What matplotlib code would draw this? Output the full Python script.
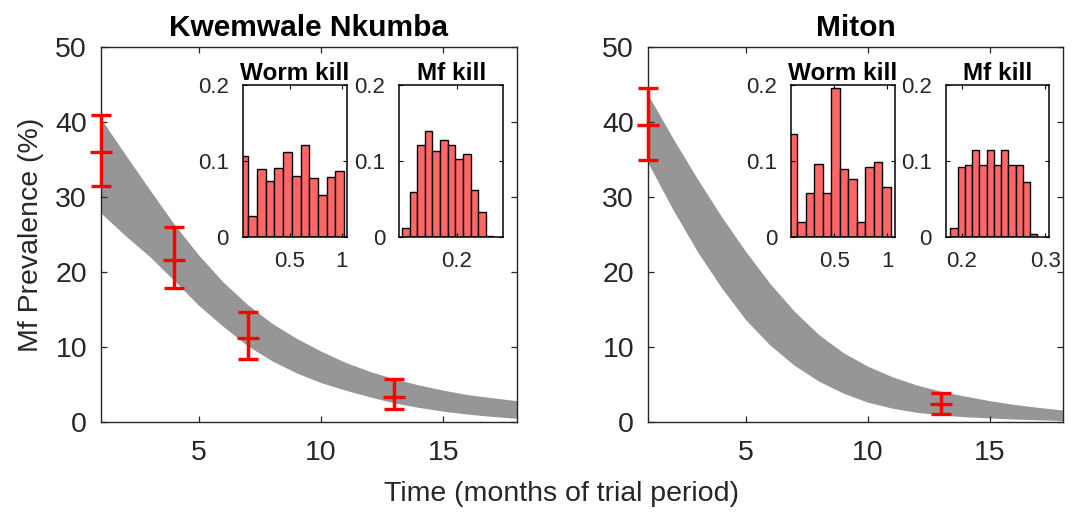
import numpy as np
import matplotlib
matplotlib.use("Agg")
import matplotlib.pyplot as plt

plt.rcParams['font.family'] = ['Liberation Sans', 'DejaVu Sans']
TXT = '#262626'

# ---- band of model trajectories (upper / lower envelope)
months = [1, 2, 3, 4, 5, 6, 7, 8, 9, 10, 11, 12, 13, 14, 15, 16, 17, 18]
kw_upper = [40.4, 35.6, 30.9, 26.3, 22.2, 18.6, 15.6, 13.1, 11.1, 9.4, 7.9, 6.7, 5.7, 4.9, 4.2, 3.6, 3.2, 2.8]
kw_lower = [27.8, 24.8, 22.0, 18.8, 15.5, 12.7, 10.1, 8.1, 6.5, 5.2, 4.2, 3.3, 2.5, 1.9, 1.4, 1.0, 0.7, 0.45]
mi_upper = [43.6, 37.9, 32.5, 27.4, 22.7, 18.4, 14.7, 11.6, 9.2, 7.4, 6.0, 4.9, 4.05, 3.4, 2.8, 2.3, 1.9, 1.56]
mi_lower = [34.5, 28.4, 22.8, 17.9, 13.6, 10.2, 7.5, 5.4, 3.8, 2.6, 1.8, 1.25, 0.9, 0.65, 0.5, 0.35, 0.25, 0.15]

# ---- observed prevalence with 95% CI
kw_obs_t = [1, 4, 7, 13]
kw_obs_mean = [35.9, 21.6, 11.1, 3.3]
kw_obs_lo = [31.4, 17.8, 8.3, 1.65]
kw_obs_hi = [40.9, 26.0, 14.6, 5.65]

mi_obs_t = [1, 13]
mi_obs_mean = [39.6, 2.3]
mi_obs_lo = [34.9, 1.0]
mi_obs_hi = [44.5, 3.8]

# ---- posterior histograms (bin edges, relative frequency)
kw_worm_edges = [0.014, 0.098, 0.182, 0.266, 0.350, 0.434, 0.518, 0.602, 0.686, 0.770, 0.854, 0.938, 1.022]
kw_worm_freq = [0.106, 0.027, 0.089, 0.074, 0.091, 0.112, 0.080, 0.121, 0.078, 0.055, 0.079, 0.087]
kw_mf_edges = [0.128, 0.138, 0.148, 0.158, 0.168, 0.178, 0.188, 0.198, 0.208, 0.218, 0.228, 0.238, 0.248]
kw_mf_freq = [0.012, 0.059, 0.121, 0.140, 0.113, 0.128, 0.121, 0.103, 0.109, 0.061, 0.033, 0.0015]

mi_worm_edges = [0.071, 0.151, 0.231, 0.311, 0.391, 0.471, 0.551, 0.631, 0.711, 0.791, 0.871, 0.951, 1.031]
mi_worm_freq = [0.136, 0.019, 0.057, 0.096, 0.057, 0.196, 0.089, 0.076, 0.019, 0.092, 0.099, 0.065]
mi_mf_edges = [0.1865, 0.1952, 0.2039, 0.2126, 0.2213, 0.2300, 0.2387, 0.2474, 0.2561, 0.2648, 0.2735, 0.2822, 0.2909]
mi_mf_freq = [0.012, 0.092, 0.0945, 0.114, 0.0945, 0.114, 0.0945, 0.114, 0.0945, 0.0945, 0.0725, 0.0035]

fig = plt.figure(figsize=(10.72, 5.13), dpi=100)


def main_panel(rect, title, upper, lower, t, mean, lo, hi):
    ax = fig.add_axes(rect)
    ax.fill_between(months, lower, upper, color='#969696', linewidth=0)
    mean = np.array(mean)
    yerr = [mean - np.array(lo), np.array(hi) - mean]
    ax.errorbar(t, mean, yerr=yerr, fmt='_', color='red', ecolor='red',
                elinewidth=2.5, capsize=7.5, capthick=2.4, markersize=16,
                markeredgewidth=2.4, clip_on=False, zorder=5)
    ax.set_xlim(1, 18)
    ax.set_ylim(0, 50)
    ax.set_xticks([5, 10, 15])
    ax.set_yticks([0, 10, 20, 30, 40, 50])
    ax.tick_params(direction='in', top=True, right=True, length=4, width=0.9,
                   labelsize=20.5, labelcolor=TXT, color=TXT, pad=10)
    ax.tick_params(axis='x', pad=13)
    for s in ax.spines.values():
        s.set_color(TXT)
        s.set_linewidth(1.0)
    ax.set_title(title, fontsize=21.5, fontweight='bold', pad=7.5)
    return ax


def hist_inset(rect, title, edges, freq, xlim, xticks, xticklabels):
    ax = fig.add_axes(rect)
    ax.set_facecolor('white')
    ax.bar(edges[:-1], freq, width=np.diff(edges), align='edge',
           color='#ff6666', edgecolor='black', linewidth=1.0)
    ax.set_xlim(*xlim)
    ax.set_ylim(0, 0.2)
    ax.set_xticks(xticks)
    ax.set_xticklabels(xticklabels)
    ax.set_yticks([0, 0.1, 0.2])
    ax.set_yticklabels(['0', '0.1', '0.2'])
    ax.tick_params(direction='in', top=True, right=True, length=3, width=0.8,
                   labelsize=16, labelcolor=TXT, pad=10)
    ax.tick_params(axis='x', pad=10)
    for s in ax.spines.values():
        s.set_color('black')
        s.set_linewidth(1.1)
    ax.set_title(title, fontsize=17.5, fontweight='bold', pad=3.5)
    return ax


main_panel([0.0942, 0.178, 0.3878, 0.731], 'Kwemwale Nkumba',
           kw_upper, kw_lower, kw_obs_t, kw_obs_mean, kw_obs_lo, kw_obs_hi)
main_panel([0.6045, 0.178, 0.3871, 0.731], 'Miton',
           mi_upper, mi_lower, mi_obs_t, mi_obs_mean, mi_obs_lo, mi_obs_hi)

hist_inset([0.2264, 0.5386, 0.0976, 0.2957], 'Worm kill', kw_worm_edges, kw_worm_freq,
           (0.043, 1.054), [0.5, 1], ['0.5', '1'])
hist_inset([0.3722, 0.5386, 0.0973, 0.2957], 'Mf kill', kw_mf_edges, kw_mf_freq,
           (0.124, 0.261), [0.2], ['0.2'])
hist_inset([0.7379, 0.5386, 0.0970, 0.2957], 'Worm kill', mi_worm_edges, mi_worm_freq,
           (0.091, 1.072), [0.5, 1], ['0.5', '1'])
hist_inset([0.8822, 0.5386, 0.0966, 0.2957], 'Mf kill', mi_mf_edges, mi_mf_freq,
           (0.181, 0.305), [0.2, 0.3], ['0.2', '0.3'])

fig.text(0.029, 0.542, 'Mf Prevalence (%)', rotation=90, ha='center', va='center',
         fontsize=20.5, color=TXT)
fig.text(0.524, 0.037, 'Time (months of trial period)', ha='center', va='center',
         fontsize=20.5, color=TXT)

fig.savefig('out.png', dpi=100)
